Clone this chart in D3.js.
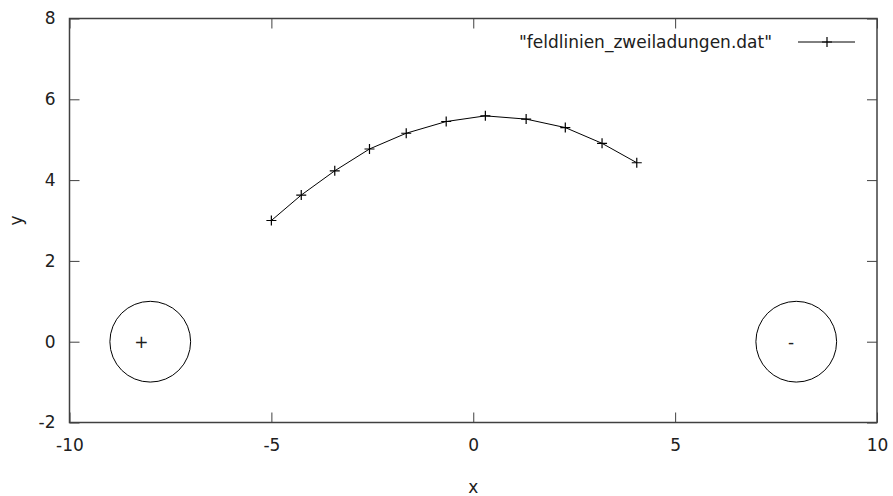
<!DOCTYPE html>
<html lang="de">
<head>
    <meta charset="UTF-8">
    <title>feldlinien</title>
    <style>
        body { margin: 0; background: #fff; }
        svg text { font-family: "DejaVu Sans", sans-serif; fill: #202020; }
    </style>
</head>
<body>
    <svg id="plot"></svg>
    <script src="https://d3js.org/d3.v7.min.js"></script>
    <script>
    // field line points
    const line_x = [-5.00, -4.26, -3.43, -2.57, -1.66, -0.67, 0.30, 1.31, 2.28, 3.19, 4.05];
    const line_y = [ 3.00,  3.63,  4.23,  4.77,  5.16,  5.45, 5.59, 5.51, 5.30, 4.91, 4.43];

    // charges: position, radius, label
    const charge_x = [-8, 8];
    const charge_y = [0, 0];
    const charge_r = [1, 1];
    const charge_label = ["+", "-"];
    const charge_label_x = [-8.22, 7.87];

    const x_ticks = [-10, -5, 0, 5, 10];
    const y_ticks = [-2, 0, 2, 4, 6, 8];
    const legend_label = '"feldlinien_zweiladungen.dat"';

    const width = 893, height = 496;
    const margin = {top: 18.5, right: 16, bottom: 73.5, left: 69.5};
    const w = width - margin.left - margin.right;
    const h = height - margin.top - margin.bottom;
    const frame_color = "#404040";

    const svg = d3.select("#plot").attr("width", width).attr("height", height);
    const plot = svg.append("g")
        .attr("transform", "translate(" + margin.left + "," + margin.top + ")");

    const x_scale = d3.scaleLinear().domain([-10, 10]).range([0, w]);
    const y_scale = d3.scaleLinear().domain([-2, 8]).range([h, 0]);

    // plain hyphen minus, as gnuplot prints it
    const fmt = d => String(d);

    // ticks point inward on all four sides, like gnuplot
    function style_axis(g) {
        g.select(".domain").remove();
        g.selectAll(".tick line").attr("stroke", frame_color);
        g.selectAll(".tick text").style("font-size", "17px").attr("fill", "#202020");
    }

    plot.append("g")
        .attr("transform", "translate(0," + h + ")")
        .call(d3.axisBottom(x_scale).tickValues(x_ticks).tickSizeInner(-10).tickPadding(16).tickFormat(fmt))
        .call(style_axis);
    plot.append("g")
        .call(d3.axisTop(x_scale).tickValues(x_ticks).tickSizeInner(-10).tickFormat(""))
        .call(style_axis);
    plot.append("g")
        .call(d3.axisLeft(y_scale).tickValues(y_ticks).tickSizeInner(-10).tickPadding(14).tickFormat(fmt))
        .call(style_axis);
    plot.append("g")
        .attr("transform", "translate(" + w + ",0)")
        .call(d3.axisRight(y_scale).tickValues(y_ticks).tickSizeInner(-10).tickFormat(""))
        .call(style_axis);

    plot.append("rect")
        .attr("width", w).attr("height", h)
        .attr("fill", "none")
        .attr("stroke", frame_color)
        .attr("stroke-width", 1.5);

    // axis titles
    svg.append("text")
        .attr("x", margin.left + x_scale(0)).attr("y", 493)
        .attr("text-anchor", "middle")
        .style("font-size", "17px")
        .text("x");
    svg.append("text")
        .attr("transform", "translate(22," + (margin.top + y_scale(3)) + ") rotate(-90)")
        .attr("text-anchor", "middle")
        .style("font-size", "17px")
        .text("y");

    // charges
    const charges = charge_x.map((cx, i) => ({x: cx, y: charge_y[i], r: charge_r[i], label: charge_label[i], lx: charge_label_x[i]}));
    plot.selectAll("circle.charge").data(charges).enter()
        .append("circle")
        .attr("class", "charge")
        .attr("cx", d => x_scale(d.x))
        .attr("cy", d => y_scale(d.y))
        .attr("r", d => x_scale(d.r) - x_scale(0))
        .attr("fill", "none")
        .attr("stroke", "#000")
        .attr("stroke-width", 1);
    plot.selectAll("text.charge").data(charges).enter()
        .append("text")
        .attr("class", "charge")
        .attr("x", d => x_scale(d.lx))
        .attr("y", d => y_scale(d.y))
        .attr("dy", "0.35em")
        .attr("text-anchor", "middle")
        .style("font-size", "17px")
        .text(d => d.label);

    // field line
    const points = line_x.map((px, i) => [px, line_y[i]]);
    const line_gen = d3.line()
        .x(d => x_scale(d[0]))
        .y(d => y_scale(d[1]));

    plot.append("path")
        .datum(points)
        .attr("d", line_gen)
        .attr("fill", "none")
        .attr("stroke", "#000")
        .attr("stroke-width", 1);

    function draw_plus(sel, s) {
        sel.append("path")
            .attr("d", "M" + (-s) + ",0H" + s + "M0," + (-s) + "V" + s)
            .attr("stroke", "#000")
            .attr("stroke-width", 1.2);
    }
    plot.selectAll("g.pt").data(points).enter()
        .append("g")
        .attr("class", "pt")
        .attr("transform", d => "translate(" + x_scale(d[0]) + "," + y_scale(d[1]) + ")")
        .call(draw_plus, 5);

    // legend
    const legend = svg.append("g").attr("transform", "translate(0,42)");
    legend.append("text")
        .attr("x", 772).attr("dy", "0.35em")
        .attr("text-anchor", "end")
        .style("font-size", "17px")
        .text(legend_label);
    legend.append("line")
        .attr("x1", 798).attr("x2", 855)
        .attr("stroke", "#000").attr("stroke-width", 1);
    legend.append("g")
        .attr("transform", "translate(827,0)")
        .call(draw_plus, 5);
    </script>
</body>
</html>
